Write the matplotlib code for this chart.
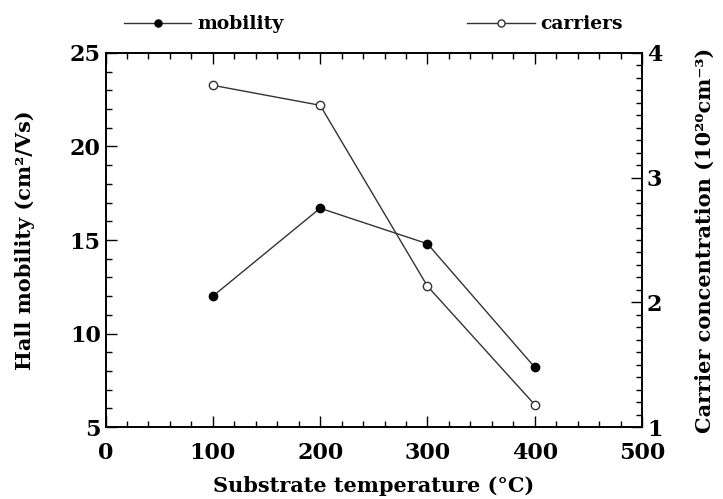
import numpy as np
import matplotlib.pyplot as plt
from matplotlib.ticker import MultipleLocator

plt.rcParams['font.family'] = 'DejaVu Serif'
plt.rcParams['font.weight'] = 'bold'

# data
temperature = [100, 200, 300, 400]
mobility = [12.0, 16.7, 14.8, 8.2]
carriers = [3.74, 3.58, 2.13, 1.18]

fig = plt.figure(figsize=(7.23, 4.99), dpi=100)
ax = fig.add_axes([0.146, 0.144, 0.742, 0.750])
ax2 = ax.twinx()

line_col = '#333333'
l1, = ax.plot(temperature, mobility, '-o', color=line_col, lw=1.0,
              markersize=6, markerfacecolor='black', markeredgecolor='black',
              label='mobility')
l2, = ax2.plot(temperature, carriers, '-o', color=line_col, lw=1.0,
               markersize=6, markerfacecolor='white', markeredgecolor=line_col,
               label='carriers')

ax.set_xlim(0, 500)
ax.set_ylim(5, 25)
ax2.set_ylim(1, 4)

ax.xaxis.set_major_locator(MultipleLocator(100))
ax.xaxis.set_minor_locator(MultipleLocator(20))
ax.yaxis.set_major_locator(MultipleLocator(5))
ax.yaxis.set_minor_locator(MultipleLocator(1))
ax2.yaxis.set_major_locator(MultipleLocator(1))
ax2.yaxis.set_minor_locator(MultipleLocator(0.1))

ax.tick_params(which='both', direction='in', top=True, right=False, labelsize=16)
ax.tick_params(axis='x', pad=11)
ax.tick_params(which='major', length=8, width=1)
ax.tick_params(which='minor', length=4, width=1)
ax2.tick_params(which='both', direction='in', labelsize=16)
ax2.tick_params(which='major', length=8, width=1)
ax2.tick_params(which='minor', length=4, width=1)
for a in (ax, ax2):
    for s in a.spines.values():
        s.set_linewidth(1.2)

ax.set_xlabel('Substrate temperature (°C)', fontsize=15, fontweight='bold', labelpad=8)
ax.set_ylabel('Hall mobility (cm²/Vs)', fontsize=15, fontweight='bold', labelpad=25)
ax2.set_ylabel('Carrier concentration (10²⁰cm⁻³)', fontsize=15, fontweight='bold', labelpad=23)

fig.legend(handles=[l1, l2], loc='upper left', bbox_to_anchor=(0.1715, 0.969), ncol=2,
           frameon=False, fontsize=13.5, columnspacing=9.8, handlelength=3.6,
           handletextpad=0.3, borderpad=0, borderaxespad=0, markerscale=0.85)

fig.savefig('out.png', dpi=100)
